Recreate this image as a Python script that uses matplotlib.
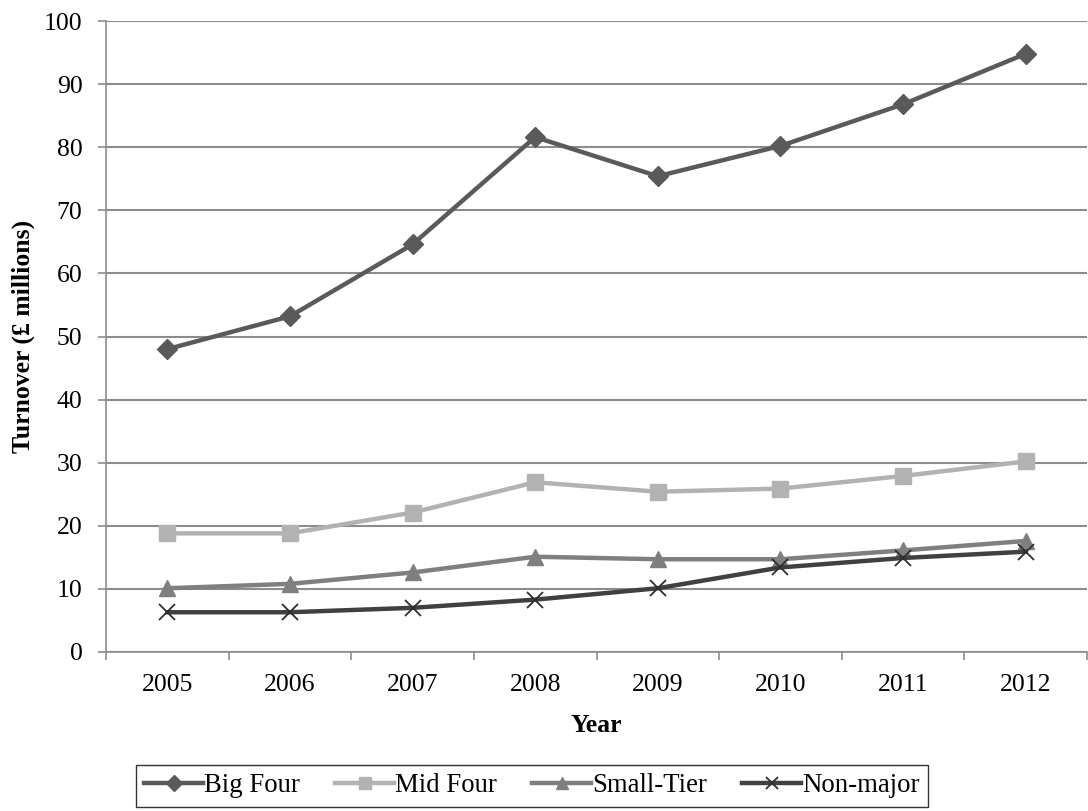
import matplotlib
matplotlib.use("Agg")
import matplotlib.pyplot as plt
import numpy as np

years = ["2005", "2006", "2007", "2008", "2009", "2010", "2011", "2012"]
big_four = [48.0, 53.2, 64.6, 81.6, 75.4, 80.2, 86.8, 94.8]
mid_four = [18.8, 18.8, 22.1, 26.9, 25.4, 25.9, 27.9, 30.2]
small_tier = [10.1, 10.8, 12.6, 15.1, 14.7, 14.7, 16.1, 17.6]
non_major = [6.3, 6.3, 7.0, 8.3, 10.1, 13.4, 14.9, 15.9]

plt.rcParams["font.family"] = ["Liberation Serif", "DejaVu Serif"]

W, H = 1088, 811
fig = plt.figure(figsize=(W / 100, H / 100), dpi=100)
left, right, top, bottom = 106, 1087, 21, 652
ax = fig.add_axes([left / W, 1 - bottom / H, (right - left) / W, (bottom - top) / H])

x = np.arange(len(years))
grid_c = "#8c8c8c"

series = [
    ("Big Four", big_four, "#5a5a5a", "D", 10),
    ("Mid Four", mid_four, "#b2b2b2", "s", 11),
    ("Small-Tier", small_tier, "#7f7f7f", "^", 11),
    ("Non-major", non_major, "#404040", "x", 11),
]
for name, vals, col, mk, ms in series:
    kw = dict(color=col, lw=3.2, marker=mk, markersize=ms, label=name,
              markerfacecolor=col, markeredgecolor=col)
    if mk == "x":
        kw.update(markeredgewidth=1.3, markeredgecolor="#2e2e2e")
    ax.plot(x, vals, **kw)

ax.set_xlim(-0.5, len(years) - 0.5)
ax.set_ylim(0, 100)
ax.set_yticks(np.arange(0, 101, 10))
ax.set_xticks(x)
ax.set_xticklabels(years)
ax.set_xticks(np.arange(-0.5, len(years), 1.0), minor=True)
ax.tick_params(axis="x", which="major", length=0, labelsize=18.5, pad=16)
ax.tick_params(axis="x", which="minor", length=6, color=grid_c, width=1.2, direction="out")
ax.tick_params(axis="y", length=6, color=grid_c, width=1.2, labelsize=18.5, pad=11)

ax.yaxis.grid(True, color=grid_c, lw=1.5)
ax.set_axisbelow(True)
for s in ["top", "right"]:
    ax.spines[s].set_visible(False)
for s in ["left", "bottom"]:
    ax.spines[s].set_color(grid_c)
    ax.spines[s].set_linewidth(1.2)

ax.set_xlabel("Year", fontsize=18.5, fontweight="bold", labelpad=13)
ax.set_ylabel("Turnover (£ millions)", fontsize=18.5, fontweight="bold", labelpad=6)

leg = fig.legend(loc="center", bbox_to_anchor=(532 / W, 1 - 786 / H), ncol=4,
                 fontsize=19.3, frameon=True, fancybox=False, edgecolor="black",
                 handlelength=2.2, columnspacing=1.3, handletextpad=0.05,
                 borderpad=0.3, markerscale=0.8)
leg.get_frame().set_linewidth(1.0)

fig.savefig("out.png", dpi=100)
